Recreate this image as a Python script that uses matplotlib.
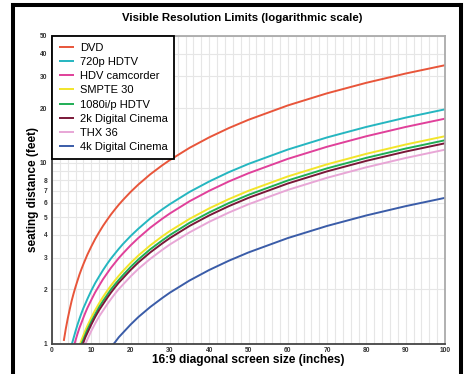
import matplotlib
matplotlib.use("Agg")
import matplotlib.pyplot as plt
from matplotlib.lines import Line2D
from matplotlib.ticker import FixedLocator, NullFormatter

plt.rcParams['font.family'] = ['Liberation Sans', 'DejaVu Sans']

# screen diagonal (inches)
sizes = [3, 3.5, 4, 4.5, 5, 5.5, 6, 6.5, 7, 7.5, 8, 8.5, 9, 10, 11, 12, 13, 14, 15, 16, 17, 18,
         20, 22, 25, 28, 30, 35, 40, 45, 50, 60, 70, 80, 90, 100]

# seating distance (feet)
dvd = [1.04, 1.21, 1.38, 1.55, 1.73, 1.90, 2.07, 2.24, 2.42, 2.59, 2.76, 2.93, 3.11, 3.45, 3.80, 4.14,
       4.49, 4.83, 5.18, 5.52, 5.87, 6.21, 6.90, 7.59, 8.63, 9.66, 10.35, 12.08, 13.80, 15.53, 17.25,
       20.70, 24.15, 27.60, 31.05, 34.50]
hd720 = [0.59, 0.69, 0.79, 0.89, 0.99, 1.08, 1.18, 1.28, 1.38, 1.48, 1.58, 1.67, 1.77, 1.97, 2.17, 2.36,
         2.56, 2.76, 2.96, 3.15, 3.35, 3.55, 3.94, 4.33, 4.93, 5.52, 5.91, 6.90, 7.88, 8.87, 9.85,
         11.82, 13.79, 15.76, 17.73, 19.70]
hdv = [0.53, 0.61, 0.70, 0.79, 0.88, 0.96, 1.05, 1.14, 1.23, 1.31, 1.40, 1.49, 1.58, 1.75, 1.93, 2.10,
       2.28, 2.45, 2.63, 2.80, 2.98, 3.15, 3.50, 3.85, 4.38, 4.90, 5.25, 6.13, 7.00, 7.88, 8.75,
       10.50, 12.25, 14.00, 15.75, 17.50]
smpte30 = [0.42, 0.49, 0.56, 0.63, 0.70, 0.77, 0.84, 0.91, 0.98, 1.05, 1.12, 1.19, 1.26, 1.40, 1.54, 1.68,
           1.82, 1.96, 2.10, 2.24, 2.38, 2.52, 2.80, 3.08, 3.50, 3.92, 4.20, 4.90, 5.60, 6.30, 7.00,
           8.40, 9.80, 11.20, 12.60, 14.00]
hd1080 = [0.40, 0.47, 0.53, 0.60, 0.67, 0.73, 0.80, 0.86, 0.93, 1.00, 1.06, 1.13, 1.20, 1.33, 1.46, 1.60,
          1.73, 1.86, 2.00, 2.13, 2.26, 2.39, 2.66, 2.93, 3.33, 3.72, 3.99, 4.66, 5.32, 5.99, 6.65,
          7.98, 9.31, 10.64, 11.97, 13.30]
cinema2k = [0.38, 0.45, 0.51, 0.58, 0.64, 0.70, 0.77, 0.83, 0.90, 0.96, 1.02, 1.09, 1.15, 1.28, 1.41, 1.54,
            1.66, 1.79, 1.92, 2.05, 2.18, 2.30, 2.56, 2.82, 3.20, 3.58, 3.84, 4.48, 5.12, 5.76, 6.40,
            7.68, 8.96, 10.24, 11.52, 12.80]
thx36 = [0.35, 0.41, 0.47, 0.53, 0.59, 0.65, 0.71, 0.77, 0.83, 0.89, 0.94, 1.00, 1.06, 1.18, 1.30, 1.42,
         1.53, 1.65, 1.77, 1.89, 2.01, 2.12, 2.36, 2.60, 2.95, 3.30, 3.54, 4.13, 4.72, 5.31, 5.90,
         7.08, 8.26, 9.44, 10.62, 11.80]
cinema4k = [0.19, 0.22, 0.26, 0.29, 0.32, 0.35, 0.38, 0.42, 0.45, 0.48, 0.51, 0.54, 0.58, 0.64, 0.70, 0.77,
            0.83, 0.90, 0.96, 1.02, 1.09, 1.15, 1.28, 1.41, 1.60, 1.79, 1.92, 2.24, 2.56, 2.88, 3.20,
            3.84, 4.48, 5.12, 5.76, 6.40]

labels = ["DVD", "720p HDTV", "HDV camcorder", "SMPTE 30", "1080i/p HDTV",
          "2k Digital Cinema", "THX 36", "4k Digital Cinema"]
series = [dvd, hd720, hdv, smpte30, hd1080, cinema2k, thx36, cinema4k]
colors = ["#e8553a", "#25b6c0", "#e0409a", "#f2e52a", "#1fae55", "#7a1838", "#e8a6d6", "#3a5ca8"]

x_ticks = [0, 10, 20, 30, 40, 50, 60, 70, 80, 90, 100]
y_ticks = [1, 2, 3, 4, 5, 6, 7, 8, 10, 20, 30, 40, 50]

W, H = 465, 374
fig = plt.figure(figsize=(W / 100, H / 100), dpi=100)
ax = fig.add_axes([52 / W, 1 - 344 / H, (445 - 52) / W, (344 - 36) / H])

for vals, lab, col in zip(series, labels, colors):
    ax.plot(sizes, vals, color=col, lw=1.4, label=lab, solid_capstyle='butt')

ax.set_yscale('log')
ax.set_xlim(0, 100)
ax.set_ylim(1, 50)

ax.xaxis.set_major_locator(FixedLocator(x_ticks))
ax.xaxis.set_minor_locator(FixedLocator(list(range(0, 101, 2))))
ax.yaxis.set_major_locator(FixedLocator(y_ticks))
ax.yaxis.set_minor_locator(FixedLocator([9]))
ax.yaxis.set_minor_formatter(NullFormatter())
ax.set_xticklabels([str(v) for v in x_ticks])
ax.set_yticklabels([str(v) for v in y_ticks])

ax.grid(True, which='both', axis='both', color='#e6e6e6', lw=0.8)
ax.set_axisbelow(True)

ax.tick_params(which='both', length=0, labelsize=4.8, colors='#333333')
ax.tick_params(axis='x', pad=2.5)
ax.tick_params(axis='y', pad=3.5)
for lab in ax.get_xticklabels() + ax.get_yticklabels():
    lab.set_fontweight('bold')

for side in ['left', 'bottom']:
    ax.spines[side].set_color('#444444')
    ax.spines[side].set_linewidth(1.3)
for side in ['top', 'right']:
    ax.spines[side].set_color('#aaaaaa')
    ax.spines[side].set_linewidth(1.3)

leg = ax.legend(loc='upper left', frameon=True, fancybox=False, fontsize=8,
                borderaxespad=0.0, labelspacing=0.38, handlelength=1.4,
                handletextpad=0.5, borderpad=0.6)
leg.get_frame().set_edgecolor('black')
leg.get_frame().set_linewidth(1.3)
leg.get_frame().set_alpha(1)

fig.text(242 / W, 1 - 18 / H, "Visible Resolution Limits (logarithmic scale)",
         ha='center', va='center', fontsize=8.2, fontweight='bold')
fig.text(248 / W, 1 - 360 / H, "16:9 diagonal screen size (inches)",
         ha='center', va='center', fontsize=8.6, fontweight='bold')
fig.text(33 / W, 1 - 190 / H, "seating distance (feet)", rotation=90,
         ha='center', va='center', fontsize=8.5, fontweight='bold')

# outer black frame
lw = 2.9
fig.add_artist(Line2D([13 / W, 13 / W], [0, 1 - 5 / H], color='black', lw=lw,
                      transform=fig.transFigure, solid_capstyle='projecting'))
fig.add_artist(Line2D([461 / W, 461 / W], [0, 1 - 5 / H], color='black', lw=lw,
                      transform=fig.transFigure, solid_capstyle='projecting'))
fig.add_artist(Line2D([13 / W, 461 / W], [1 - 5 / H, 1 - 5 / H], color='black', lw=lw,
                      transform=fig.transFigure, solid_capstyle='projecting'))

fig.savefig("out.png", dpi=100)
